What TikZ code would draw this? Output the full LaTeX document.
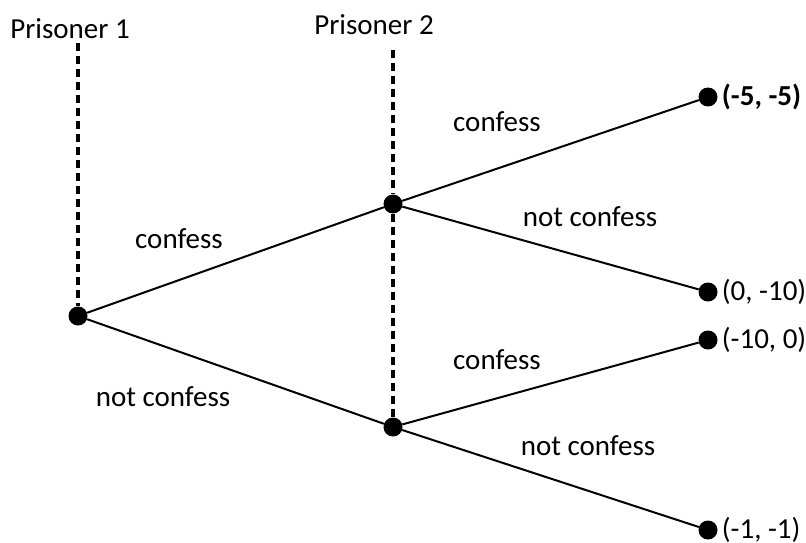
\documentclass[tikz,border=0pt]{standalone}
\usepackage{fontspec}
\setmainfont{Carlito}
\usepackage{tikz}
\usetikzlibrary{positioning}

\begin{document}
\begin{tikzpicture}[x=1pt,y=-1pt,
  dot/.style={circle,fill,inner sep=0pt,minimum size=19pt},
  lbl/.style={font=\fontsize{29}{34}\selectfont,inner sep=0pt},
  move/.style={line width=2pt},
  info/.style={line width=3.5pt,dash pattern=on 8pt off 5pt}]
  \useasboundingbox (0,0) rectangle (806,543);
  % decision nodes
  \node[dot] (r) at (78,316) {};
  \node[dot] (c) at (393,204) {};
  \node[dot] (n) at (393,427) {};
  \node[dot] (cc) at (708,97) {};
  \node[dot] (cn) at (708,292) {};
  \node[dot] (nc) at (708,340) {};
  \node[dot] (nn) at (708,530) {};
  % players
  \node[lbl] (p1) at (70,29) {Prisoner 1};
  \node[lbl] (p2) at (374,25) {Prisoner 2};
  \coordinate (p1end) at (78,43);
  \coordinate (p2end) at (393,50);
  \draw[info] (p1end) -- (r);
  \draw[info] (p2end) -- (c) -- (n);
  \path[move]
  (r) edge (c)
      edge (n)
  (c) edge (cc)
      edge (cn)
  (n) edge (nc)
      edge (nn)
  ;
  \node[lbl] (rc) at (179,239) {confess};
  \node[lbl] (rn) at (163,397) {not confess};
  \node[lbl] (cclbl) at (497,122) {confess};
  \node[lbl] (cnlbl) at (590,217) {not confess};
  \node[lbl] (nclbl) at (497,360) {confess};
  \node[lbl] (nnlbl) at (588,446) {not confess};
  % payoffs
  \node[lbl,right=4pt of cc] (ccpay) {\bfseries (-5, -5)};
  \node[lbl,right=4pt of cn] (cnpay) {(0, -10)};
  \node[lbl,right=4pt of nc] (ncpay) {(-10, 0)};
  \node[lbl,right=4pt of nn] (nnpay) {(-1, -1)};
\end{tikzpicture}
\end{document}
